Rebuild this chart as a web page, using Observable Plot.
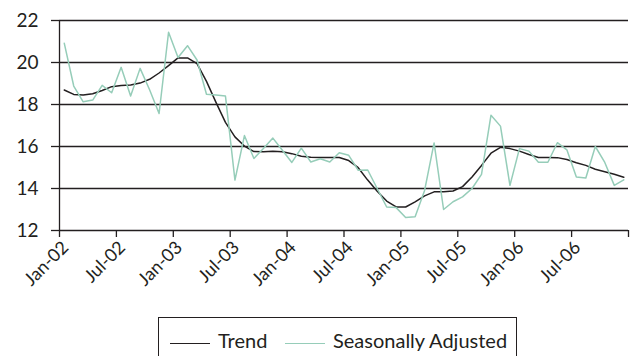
<!DOCTYPE html>
<html><head><meta charset="utf-8">
<script src="https://cdn.jsdelivr.net/npm/d3@7"></script>
<script src="https://cdn.jsdelivr.net/npm/@observablehq/plot@0.6"></script>
<style>
body{margin:0;background:#fff;font-family:Lato,"Open Sans",sans-serif;color:#231f20;}
#wrap{position:relative;width:632px;height:356px;overflow:hidden;}
#legend{position:absolute;left:158px;top:317px;width:359px;height:60px;border:1.5px solid #231f20;box-sizing:border-box;}
#legend .sw{position:absolute;top:24.5px;width:40px;height:0;border-top:1.5px solid;}
#legend .lb{position:absolute;top:11px;font-size:20px;line-height:22px;white-space:nowrap;}
</style></head><body>
<div id="wrap"><div id="chart"></div><div id="legend"></div></div>
<script>
const tickLabels = ["Jan-02","Jul-02","Jan-03","Jul-03","Jan-04","Jul-04","Jan-05","Jul-05","Jan-06","Jul-06"];
const seriesNames = ["Trend","Seasonally Adjusted"];
const trend = [
18.69,18.48,18.45,18.51,18.67,18.85,18.91,18.93,19.02,19.2,
19.5,19.85,20.22,20.22,19.95,19.1,18.1,17.15,16.46,16.02,
15.76,15.75,15.77,15.75,15.66,15.54,15.49,15.48,15.48,15.48,
15.33,14.99,14.4,13.87,13.4,13.12,13.12,13.36,13.65,13.84,
13.84,13.88,14.09,14.55,15.1,15.68,15.96,15.9,15.78,15.62,
15.48,15.48,15.47,15.38,15.23,15.1,14.92,14.8,14.68,14.54];
const seasonallyAdjusted = [
20.92,18.88,18.13,18.21,18.91,18.56,19.77,18.4,19.72,18.7,
17.57,21.44,20.24,20.8,20.12,18.49,18.45,18.4,14.4,16.52,
15.43,15.9,16.4,15.82,15.24,15.92,15.26,15.42,15.26,15.7,
15.58,14.87,14.88,14.0,13.12,13.09,12.62,12.66,13.91,16.17,
13.0,13.37,13.6,14.0,14.67,17.49,16.97,14.15,15.9,15.78,
15.25,15.25,16.18,15.84,14.55,14.5,16.0,15.24,14.15,14.41];
const yTicks = [12,14,16,18,20,22];
const colors = ["#231f20","#96cdb9"];

const data = trend.map((v,i)=>({m:i+0.5, trend:v, sa:seasonallyAdjusted[i]}));
const nMonths = trend.length;
const xTicks = d3.range(0, nMonths+1, 6);

const chart = Plot.plot({
  width:632, height:310,
  marginLeft:59, marginRight:4, marginTop:20, marginBottom:80,
  style:{fontFamily:"Lato, 'Open Sans', sans-serif", color:"#231f20", background:"#fff"},
  x:{domain:[0,nMonths]},
  y:{domain:[12,22]},
  marks:[
    Plot.ruleY(yTicks,{stroke:"#231f20", strokeWidth:1.3}),
    Plot.axisY(yTicks,{tickSize:8, tickPadding:13, fontSize:19, strokeWidth:1.3, label:null}),
    Plot.ruleX([0],{stroke:"#231f20", strokeWidth:1.3}),
    Plot.axisX(xTicks,{tickSize:7, strokeWidth:1.3, label:null, tickFormat:()=>""}),
    Plot.axisX(xTicks,{tickSize:0, tickPadding:14, dx:6, tickRotate:-45, fontSize:18, label:null,
      tickFormat:d=>tickLabels[d/6] ?? ""}),
    Plot.lineY(data,{x:"m", y:"trend", stroke:colors[0], strokeWidth:1.5}),
    Plot.lineY(data,{x:"m", y:"sa", stroke:colors[1], strokeWidth:1.5})
  ]
});
document.getElementById("chart").appendChild(chart);

const lg = document.getElementById("legend");
const pos = [[11,59],[126,174]];
seriesNames.forEach((n,k)=>{
  const s=document.createElement("div"); s.className="sw"; s.style.left=pos[k][0]+"px"; s.style.borderColor=colors[k]; lg.appendChild(s);
  const t=document.createElement("div"); t.className="lb"; t.style.left=pos[k][1]+"px"; t.textContent=n; lg.appendChild(t);
});
</script></body></html>
